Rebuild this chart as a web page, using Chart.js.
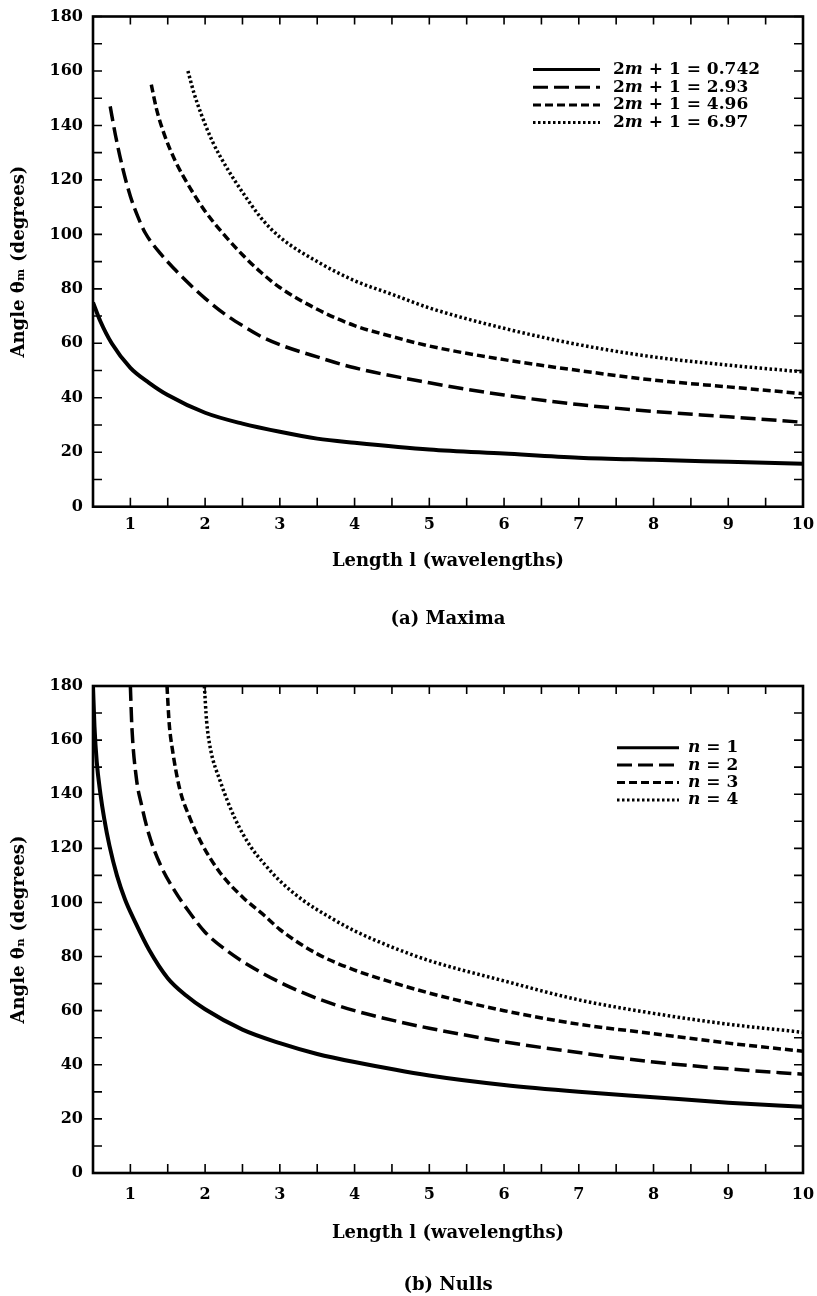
<!DOCTYPE html>
<html>
<head>
<meta charset="utf-8">
<script src="https://cdn.jsdelivr.net/npm/chart.js@4"></script>
<style>
  body { margin: 0; background: #fff; }
  canvas { position: absolute; left: 0; }
</style>
</head>
<body>
<canvas id="maxima-chart" width="817" height="640" style="top:0"></canvas>
<canvas id="nulls-chart" width="817" height="656" style="top:640px"></canvas>
<script>
// legend texts
const maximaLabels = ['2m + 1 = 0.742', '2m + 1 = 2.93', '2m + 1 = 4.96', '2m + 1 = 6.97'];
const nullsLabels = ['n = 1', 'n = 2', 'n = 3', 'n = 4'];
const captions = ['(a) Maxima', '(b) Nulls'];

// (a) maxima, [length, angle]
const maxima1 = [[0.5,75],[0.6,68],[0.75,60],[1,51],[1.25,45.5],[1.5,41],[2,34.5],[2.5,30.5],[3,27.5],[3.5,25],[4,23.5],[5,21],[6,19.5],[7,18],[8,17.2],[9,16.5],[10,15.8]];
const maxima2 = [[0.73,147],[0.8,136.5],[0.9,124],[1,114],[1.1,106.5],[1.2,100.5],[1.4,93],[1.6,87],[1.8,81.5],[2,76.5],[2.25,71],[2.5,66.5],[2.75,62.5],[3,59.5],[3.5,55],[4,51],[5,45.5],[6,41],[7,37.5],[8,35],[9,33],[10,31]];
const maxima3 = [[1.28,155],[1.35,146],[1.45,137],[1.6,127],[1.8,117],[2,108.5],[2.25,100],[2.5,92.5],[2.75,86],[3,80.5],[3.5,72.5],[4,66.5],[4.5,62.5],[5,59],[6,54],[7,50],[8,46.5],[9,44],[10,41.5]];
const maxima4 = [[1.77,160],[1.85,152],[1.95,144],[2.1,134],[2.3,124],[2.5,115.5],[2.75,106],[3,99],[3.5,90],[4,83],[4.5,78],[5,73],[6,65.5],[7,59.5],[8,55],[9,52],[10,49.5]];

// (b) nulls
const nulls1 = [[0.5,180],[0.52,165],[0.55,152],[0.6,140],[0.65,131],[0.72,121],[0.82,110],[0.93,101],[1.06,93],[1.25,82.5],[1.5,72],[1.75,65.5],[2,60.5],[2.5,53],[3,48],[3.5,44],[4,41],[5,36],[6,32.5],[7,30],[8,28],[9,26],[10,24.5]];
const nulls2 = [[1,180],[1.02,165],[1.08,146],[1.15,136],[1.25,125],[1.4,114],[1.6,104],[1.8,96],[2,89],[2.3,82],[2.6,76.5],[3,70.5],[3.5,64.5],[4,60],[4.5,56.5],[5,53.5],[6,48.5],[7,44.5],[8,41],[9,38.5],[10,36.5]];
const nulls3 = [[1.49,180],[1.52,166],[1.56,157],[1.66,142],[1.8,131],[1.95,122],[2.2,111],[2.5,102],[2.8,95],[3,90],[3.5,81],[4,75],[4.5,70.5],[5,66.5],[6,60],[7,55],[8,51.5],[9,48],[10,45]];
const nulls4 = [[1.99,180],[2.02,167],[2.07,157],[2.2,145],[2.4,131],[2.6,121],[2.8,114],[3,108],[3.3,101],[3.7,94],[4,89.5],[4.5,83.5],[5,78.5],[6,71],[7,64],[8,59],[9,55],[10,52]];

const FONT = '"DejaVu Serif", "Liberation Serif", serif';

// solid, long dash, short dash, dotted
const lineStyles = [
    { borderWidth: 4, borderDash: [] },
    { borderWidth: 3.5, borderDash: [15, 6] },
    { borderWidth: 3.5, borderDash: [8, 4] },
    { borderWidth: 3.5, borderDash: [2.5, 2.5] }
];

const makeDatasets = (series, labels) => series.map((pts, i) => ({
    label: labels[i],
    data: pts.map(p => ({ x: p[0], y: p[1] })),
    borderColor: '#000',
    borderWidth: lineStyles[i].borderWidth,
    borderDash: lineStyles[i].borderDash,
    borderCapStyle: 'butt',
    pointRadius: 0,
    fill: false,
    cubicInterpolationMode: 'monotone'
}));

// box around the plot plus inward tick marks on all four sides
const frameTicks = {
    id: 'frameTicks',
    afterDraw(chart) {
        const { ctx, chartArea: a, scales: { x, y } } = chart;
        ctx.save();
        ctx.strokeStyle = '#000';
        ctx.lineWidth = 1.6;
        ctx.beginPath();
        x.ticks.forEach(t => {
            const px = x.getPixelForValue(t.value);
            ctx.moveTo(px, a.bottom); ctx.lineTo(px, a.bottom - 9);
            ctx.moveTo(px, a.top); ctx.lineTo(px, a.top + 8);
        });
        y.ticks.forEach(t => {
            const py = y.getPixelForValue(t.value);
            ctx.moveTo(a.left, py); ctx.lineTo(a.left + 9, py);
            ctx.moveTo(a.right, py); ctx.lineTo(a.right - 9, py);
        });
        ctx.stroke();
        ctx.lineWidth = 2.6;
        ctx.strokeRect(a.left, a.top, a.right - a.left, a.bottom - a.top);
        ctx.restore();
    }
};

// legend drawn inside the plot, letters in italic
const lineKey = {
    id: 'lineKey',
    afterDraw(chart, args, opts) {
        const ctx = chart.ctx;
        ctx.save();
        ctx.fillStyle = '#000';
        ctx.strokeStyle = '#000';
        ctx.textBaseline = 'middle';
        chart.data.datasets.forEach((ds, i) => {
            const y = opts.y + i * opts.row;
            ctx.lineWidth = 3;
            ctx.setLineDash(ds.borderDash);
            ctx.beginPath();
            ctx.moveTo(opts.x, y);
            ctx.lineTo(opts.x + opts.len, y);
            ctx.stroke();
            ctx.setLineDash([]);
            let cx = opts.textX;
            ds.label.split(/([a-z]+)/).forEach((part, j) => {
                if (!part) return;
                ctx.font = (j % 2 ? 'italic bold ' : 'bold ') + '17px ' + FONT;
                ctx.fillText(part, cx, y);
                cx += ctx.measureText(part).width;
            });
        });
        ctx.restore();
    }
};

const makeChart = (id, series, labels, cfg) => {
    const ctx = document.getElementById(id);
    new Chart(ctx, {
        type: 'line',
        data: { datasets: makeDatasets(series, labels) },
        plugins: [frameTicks, lineKey],
        options: {
            responsive: false,
            animation: false,
            layout: { padding: cfg.padding },
            plugins: {
                legend: { display: false },
                tooltip: { enabled: false },
                title: {
                    display: true,
                    text: cfg.caption,
                    position: 'bottom',
                    fullSize: false,
                    color: '#000',
                    font: { family: FONT, size: 18, weight: 'bold' },
                    padding: { top: cfg.captionGap, bottom: 0 }
                },
                lineKey: cfg.key
            },
            scales: {
                x: {
                    type: 'linear',
                    min: 0.5,
                    max: 10,
                    grid: { display: false, drawTicks: false },
                    border: { display: false },
                    afterFit: (scale) => {
                        scale.height = cfg.xHeight;
                        scale.paddingLeft = 0;
                        scale.paddingRight = 0;
                    },
                    ticks: {
                        stepSize: 0.5,
                        autoSkip: false,
                        maxRotation: 0,
                        padding: cfg.xTickPad,
                        color: '#000',
                        font: { family: FONT, size: 16, weight: 'bold' },
                        callback: (v) => Number.isInteger(v) ? v : ''
                    },
                    title: {
                        display: true,
                        text: 'Length l (wavelengths)',
                        color: '#000',
                        font: { family: FONT, size: 18, weight: 'bold' },
                        padding: { top: 0, bottom: 0 }
                    }
                },
                y: {
                    type: 'linear',
                    min: 0,
                    max: 180,
                    grid: { display: false, drawTicks: false },
                    border: { display: false },
                    afterFit: (scale) => {
                        scale.width = 93;
                        scale.paddingTop = 0;
                        scale.paddingBottom = 0;
                    },
                    ticks: {
                        stepSize: 10,
                        autoSkip: false,
                        padding: 10,
                        color: '#000',
                        font: { family: FONT, size: 16, weight: 'bold' },
                        callback: (v) => v % 20 === 0 ? v : ''
                    },
                    title: {
                        display: true,
                        text: cfg.yTitle,
                        color: '#000',
                        font: { family: FONT, size: 18, weight: 'bold' },
                        padding: { top: 9, bottom: 0 }
                    }
                }
            }
        }
    });
};

makeChart('maxima-chart', [maxima1, maxima2, maxima3, maxima4], maximaLabels, {
    caption: captions[0],
    yTitle: 'Angle θₘ (degrees)',
    padding: { top: 16.5, right: 14, bottom: 9.5, left: 0 },
    xHeight: 65.8,
    xTickPad: 9,
    captionGap: 36.4,
    key: { x: 533, len: 67, textX: 613, y: 69.5, row: 17.7 }
});

makeChart('nulls-chart', [nulls1, nulls2, nulls3, nulls4], nullsLabels, {
    caption: captions[1],
    yTitle: 'Angle θₙ (degrees)',
    padding: { top: 46, right: 14, bottom: 0.2, left: 0 },
    xHeight: 70.8,
    xTickPad: 12,
    captionGap: 30.4,
    key: { x: 617, len: 62, textX: 688, y: 107.7, row: 17.4 }
});
</script>
</body>
</html>
